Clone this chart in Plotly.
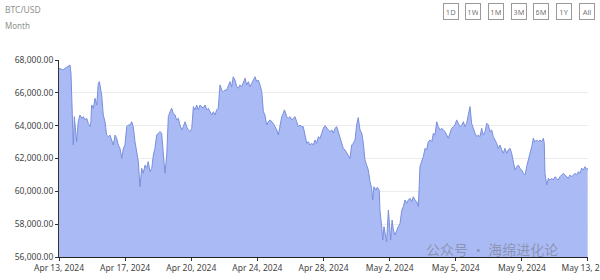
import pandas as pd
import plotly.graph_objects as go

# ---- data ----
start_date = "2024-04-13 00:00"
day_offset = [
    0.00, 0.24, 0.34, 0.53, 0.62, 0.68, 0.75, 0.81, 0.87, 0.95, 1.00, 1.09, 1.19, 1.29, 1.38, 1.47,
    1.57, 1.66, 1.76, 1.81, 1.85, 1.95, 2.04, 2.14, 2.23, 2.29, 2.36, 2.42, 2.51, 2.61, 2.70, 2.80,
    2.89, 2.99, 3.08, 3.18, 3.27, 3.36, 3.46, 3.56, 3.65, 3.74, 3.84, 3.93, 4.03, 4.12, 4.21, 4.31,
    4.41, 4.50, 4.59, 4.69, 4.78, 4.88, 4.97, 5.06, 5.16, 5.26, 5.35, 5.44, 5.54, 5.63, 5.73,
    5.82, 5.92, 6.01, 6.11, 6.20, 6.30, 6.39, 6.48, 6.58, 6.67, 6.77, 6.86, 6.96, 7.05, 7.15, 7.24,
    7.33, 7.43, 7.53, 7.62, 7.71, 7.81, 7.90, 8.00, 8.09, 8.18, 8.28, 8.38, 8.47, 8.56, 8.66, 8.75,
    8.85, 8.94, 9.03, 9.13, 9.23, 9.32, 9.41, 9.51, 9.60, 9.70, 9.79, 9.88, 9.98, 10.08, 10.17,
    10.26, 10.36, 10.45, 10.55, 10.64, 10.74, 10.83, 10.93, 11.02, 11.12, 11.21, 11.30, 11.40,
    11.50, 11.59, 11.68, 11.78, 11.87, 11.97,
    12.06, 12.15, 12.25, 12.35, 12.44, 12.53, 12.63, 12.72, 12.78, 12.86, 12.91, 13.00, 13.10,
    13.20, 13.29, 13.38, 13.48, 13.57, 13.67, 13.76, 13.85, 13.95, 14.05, 14.14, 14.23, 14.33,
    14.42, 14.52, 14.61, 14.71, 14.80, 14.90, 14.99, 15.09, 15.18, 15.27, 15.37, 15.47, 15.56,
    15.65, 15.75, 15.84, 15.94, 16.03, 16.12, 16.22, 16.32, 16.41, 16.50, 16.60, 16.69, 16.79,
    16.88, 16.97,
    17.07, 17.17, 17.26, 17.35, 17.45, 17.54, 17.64, 17.73, 17.79, 17.86, 17.98, 18.05, 18.16,
    18.20, 18.30, 18.36, 18.43, 18.51, 18.58, 18.68, 18.73, 18.81, 18.89, 18.96, 19.06, 19.15,
    19.24, 19.34, 19.44, 19.53, 19.62, 19.72, 19.81, 19.91, 20.00, 20.09, 20.19, 20.29, 20.38,
    20.47, 20.57, 20.66, 20.76, 20.85, 20.94, 21.04, 21.14, 21.23, 21.32, 21.42, 21.51, 21.61,
    21.70, 21.79, 21.89, 21.99, 22.08, 22.17, 22.27, 22.36, 22.46, 22.55, 22.64, 22.74, 22.84,
    22.93, 23.03,
    23.12, 23.21, 23.31, 23.40, 23.50, 23.59, 23.69, 23.78, 23.88, 23.97, 24.06, 24.16, 24.26,
    24.35, 24.44, 24.54, 24.63, 24.73, 24.82, 24.91, 25.01, 25.11, 25.20, 25.29, 25.39, 25.48,
    25.58, 25.67, 25.76, 25.86, 25.96, 26.05, 26.14, 26.24, 26.33, 26.43, 26.52, 26.62, 26.71,
    26.81, 26.90, 26.99, 27.09, 27.18, 27.28, 27.37, 27.47, 27.52, 27.56, 27.66, 27.75, 27.85,
    27.94, 28.03, 28.13, 28.23, 28.32, 28.41, 28.51, 28.60, 28.70, 28.79, 28.88, 28.98, 29.08,
    29.17, 29.26, 29.36, 29.45, 29.55, 29.64, 29.73, 29.83, 29.93, 29.98,
]
price = [
    67500, 67390, 67490, 67635, 67695, 67190, 64650, 62820, 64550, 63840, 63020, 64240, 64650, 64450, 64550, 64350,
    64450, 64140, 63940, 64240, 65260, 65060, 65670, 65260, 66580, 66680, 66280, 65870, 64650, 64240, 63430, 63330,
    63430, 63130, 62820, 63430, 63230, 62820, 62620, 62010, 62620, 62820, 63940, 64040, 64040, 64240, 63940, 63020,
    62410, 61810, 60280, 61400, 61100, 61600, 61400, 61810, 61200, 61400, 62210, 62620, 63430, 63540, 63640,
    63540, 62410, 61100, 62210, 64550, 64850, 65060, 64750, 64650, 64350, 64450, 64040, 63740, 63940, 64240, 63940,
    63740, 63640, 63840, 65160, 64960, 65260, 64960, 65260, 65160, 65060, 65260, 64960, 65060, 64850, 64650, 64850,
    64650, 64960, 65060, 66480, 66170, 66070, 66170, 66170, 66370, 66680, 66370, 66980, 66780, 66370, 66280,
    66480, 66370, 66580, 66890, 66480, 66680, 66370, 66580, 66680, 66980, 66680, 66780, 66480,
    66070, 64850, 64650, 64040, 64240, 64350,
    64240, 64140, 63940, 63740, 63430, 63940, 64550, 64750, 64960, 64750, 64550, 64450, 64550,
    64350, 64450, 64550, 64240, 63940, 64040, 63940, 63940, 63430, 62930, 63020, 62820, 62930,
    62820, 63130, 62930, 63330, 63230, 63540, 63840, 64000, 63840, 63740, 63640, 63740, 63540,
    63840, 63940, 63640, 63230, 62930, 62620, 62520, 62320, 62110, 62010, 62820, 62930, 63130,
    64040, 64490,
    63740, 63540, 62930, 61910, 61500, 61300, 60590, 60190, 59470, 60280, 60080, 60250, 60080,
    58860, 57850, 57040, 57850, 57240, 56930, 58860, 58250, 57040, 58250, 57650, 57340, 57650,
    57850, 58050, 58860, 59070, 59470, 59270, 59470, 59580, 59370, 59670, 59470, 59370, 59070,
    61500, 61810, 62110, 62620, 62520, 63020, 63130, 63020, 63540, 63430, 64240, 63940, 63740,
    63840, 63740, 63640, 63430, 63230, 63540, 63840, 63940, 64040, 64350, 64140, 63940, 64040,
    64240, 63940,
    64140, 64650, 65160, 64140, 63740, 63540, 63330, 63430, 63330, 63840, 63430, 63640, 64140,
    64040, 63640, 63740, 63330, 63130, 62930, 62620, 62820, 62520, 62320, 62620, 62320, 62520,
    62620, 62320, 61810, 61300, 61500, 61600, 61400, 61300, 61100, 61000, 61500, 62010, 62320,
    62720, 63230, 63020, 63130, 63020, 63130, 63020, 63230, 62930, 61100, 60390, 60790, 60690,
    60790, 60690, 60890, 60790, 60690, 60890, 61000, 61100, 61000, 60890, 60790, 61000, 60890,
    61000, 61100, 61000, 61200, 61100, 61410, 61300, 61500, 61300, 61410,
]
tick_labels = ["Apr 13, 2024", "Apr 17, 2024", "Apr 20, 2024", "Apr 24, 2024", "Apr 28, 2024",
               "May 2, 2024", "May 5, 2024", "May 9, 2024", "May 13, 2024"]
range_buttons = ["1D", "1W", "1M", "3M", "6M", "1Y", "All"]
title_text = "BTC/USD"
subtitle_text = "Month"
watermark_text = "公众号 · 海绵进化论"
y_min, y_max, y_step = 56000, 68000, 2000
span_days = 30

# ---- build ----
base = pd.Timestamp(start_date)
times = base + pd.to_timedelta(day_offset, unit="D")
n_int = len(tick_labels) - 1
tick_vals = [base + pd.Timedelta(days=span_days * k / n_int) for k in range(len(tick_labels))]
tick_vals[-1] = tick_vals[-1] - pd.Timedelta(minutes=10)
end = base + pd.Timedelta(days=span_days)

FONT = "Noto Sans, Noto Sans CJK SC, sans-serif"
PW, PH, L, T = 529, 197, 59, 60  # plot area size in px, used only to place annotations


def px_to_paper(px, py):
    return (px - L) / PW, 1 - (py - T) / PH


fig = go.Figure()
fig.add_trace(go.Scatter(
    x=times, y=price, mode="lines",
    line=dict(color="#7a8fdc", width=1),
    fill="tozeroy", fillcolor="#aabaf5",
    hoverinfo="skip", showlegend=False,
))

fig.update_layout(
    width=600, height=280,
    margin=dict(l=L, r=600 - L - PW, t=T, b=280 - T - PH, pad=0, autoexpand=False),
    paper_bgcolor="white", plot_bgcolor="white",
    font=dict(family=FONT, size=8.5, color="#555"),
    showlegend=False,
)
fig.update_xaxes(
    type="date", range=[base, end],
    tickmode="array", tickvals=tick_vals, ticktext=tick_labels,
    tickfont=dict(size=8.5, color="#444"),
    ticklabeloverflow="allow", automargin=False,
    showline=True, linecolor="#222", linewidth=1.2,
    ticks="outside", ticklen=3, tickcolor="#333",
    showgrid=False, zeroline=False,
)
fig.update_yaxes(
    range=[y_min, y_max], dtick=y_step, tick0=y_min,
    tickformat=",.2f",
    tickfont=dict(size=8.5, color="#444"),
    automargin=False,
    showline=True, linecolor="#333", linewidth=1,
    ticks="outside", ticklen=3, tickcolor="#333",
    showgrid=True, gridcolor="#ececec", gridwidth=1,
    zeroline=False,
)

annotations = []
x0, y0 = px_to_paper(3, 9)
annotations.append(dict(text=title_text, xref="paper", yref="paper", x=x0, y=y0,
                        xanchor="left", yanchor="middle", showarrow=False,
                        font=dict(size=8.5, color="#8f8f8f")))
x0, y0 = px_to_paper(3, 25)
annotations.append(dict(text=subtitle_text, xref="paper", yref="paper", x=x0, y=y0,
                        xanchor="left", yanchor="middle", showarrow=False,
                        font=dict(size=8, color="#8f8f8f")))
btn_x0, btn_dx = 450.5, 22.7
for i, b in enumerate(range_buttons):
    bx, by = px_to_paper(btn_x0 + i * btn_dx, 11.5)
    annotations.append(dict(
        text=b, xref="paper", yref="paper", x=bx, y=by,
        xanchor="center", yanchor="middle", showarrow=False,
        font=dict(size=7.5, color="#777"),
        bordercolor="#9a9a9a", borderwidth=1, borderpad=2, bgcolor="white",
        width=10, height=11,
    ))
wx, wy = px_to_paper(424, 249)
annotations.append(dict(
    text=watermark_text, xref="paper", yref="paper", x=wx, y=wy,
    xanchor="left", yanchor="middle", showarrow=False,
    font=dict(size=14, color="rgba(110,110,110,0.5)", family="Noto Sans CJK SC"),
))
fig.update_layout(annotations=annotations)

fig.write_html("out.html")
